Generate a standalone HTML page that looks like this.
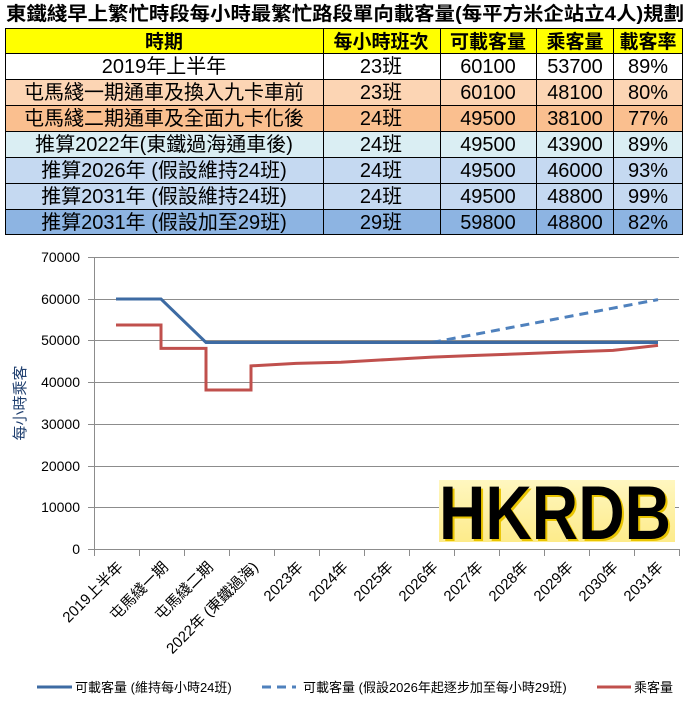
<!DOCTYPE html>
<html><head><meta charset="utf-8"><style>
html,body{margin:0;padding:0;background:#fff;}
svg{display:block;font-family:"Liberation Sans","Noto Sans CJK TC",sans-serif;}
</style></head><body>
<svg width="690" height="701" viewBox="0 0 690 701" xmlns="http://www.w3.org/2000/svg">
<text x="345" y="20" text-anchor="middle" font-size="19" font-weight="bold" textLength="678" lengthAdjust="spacingAndGlyphs">東鐵綫早上繁忙時段每小時最繁忙路段單向載客量(每平方米企站立4人)規劃</text>
<g stroke="none">
<rect x="5" y="28" width="678" height="25" fill="#ffff00"/>
<rect x="5" y="53" width="678" height="26" fill="#ffffff"/>
<rect x="5" y="79" width="678" height="26" fill="#fcd5b4"/>
<rect x="5" y="105" width="678" height="26" fill="#fabf8f"/>
<rect x="5" y="131" width="678" height="26" fill="#daeef3"/>
<rect x="5" y="157" width="678" height="26" fill="#c5d9f1"/>
<rect x="5" y="183" width="678" height="26" fill="#c5d9f1"/>
<rect x="5" y="209" width="678" height="26" fill="#8db4e2"/>
</g>
<g stroke="#000" stroke-width="1" fill="none">
<rect x="5.5" y="28.5" width="677" height="206"/>
<line x1="5" y1="53.5" x2="683" y2="53.5"/>
<line x1="5" y1="79.5" x2="683" y2="79.5"/>
<line x1="5" y1="105.5" x2="683" y2="105.5"/>
<line x1="5" y1="131.5" x2="683" y2="131.5"/>
<line x1="5" y1="157.5" x2="683" y2="157.5"/>
<line x1="5" y1="183.5" x2="683" y2="183.5"/>
<line x1="5" y1="209.5" x2="683" y2="209.5"/>
<line x1="323.5" y1="28" x2="323.5" y2="235"/>
<line x1="440.5" y1="28" x2="440.5" y2="235"/>
<line x1="536.5" y1="28" x2="536.5" y2="235"/>
<line x1="613.5" y1="28" x2="613.5" y2="235"/>
</g>
<g font-size="20" text-anchor="middle" fill="#000">
<g font-size="19" font-weight="bold">
<text x="164" y="48">時期</text>
<text x="381" y="48">每小時班次</text>
<text x="488" y="48">可載客量</text>
<text x="575" y="48">乘客量</text>
<text x="648" y="48">載客率</text>
</g>
<text x="164" y="73">2019年上半年</text>
<text x="164" y="99">屯馬綫一期通車及換入九卡車前</text>
<text x="164" y="125">屯馬綫二期通車及全面九卡化後</text>
<text x="164" y="151">推算2022年(東鐵過海通車後)</text>
<text x="164" y="177">推算2026年 (假設維持24班)</text>
<text x="164" y="203">推算2031年 (假設維持24班)</text>
<text x="164" y="229">推算2031年 (假設加至29班)</text>

<text x="381" y="73">23班</text><text x="488" y="73">60100</text><text x="575" y="73">53700</text><text x="648" y="73">89%</text>
<text x="381" y="99">23班</text><text x="488" y="99">60100</text><text x="575" y="99">48100</text><text x="648" y="99">80%</text>
<text x="381" y="125">24班</text><text x="488" y="125">49500</text><text x="575" y="125">38100</text><text x="648" y="125">77%</text>
<text x="381" y="151">24班</text><text x="488" y="151">49500</text><text x="575" y="151">43900</text><text x="648" y="151">89%</text>
<text x="381" y="177">24班</text><text x="488" y="177">49500</text><text x="575" y="177">46000</text><text x="648" y="177">93%</text>
<text x="381" y="203">24班</text><text x="488" y="203">49500</text><text x="575" y="203">48800</text><text x="648" y="203">99%</text>
<text x="381" y="229">29班</text><text x="488" y="229">59800</text><text x="575" y="229">48800</text><text x="648" y="229">82%</text>
</g>

<g stroke="#8c8c8c" stroke-width="1">
<line x1="88" y1="257.5" x2="679" y2="257.5"/>
<line x1="88" y1="299.5" x2="679" y2="299.5"/>
<line x1="88" y1="340.5" x2="679" y2="340.5"/>
<line x1="88" y1="382.5" x2="679" y2="382.5"/>
<line x1="88" y1="424.5" x2="679" y2="424.5"/>
<line x1="88" y1="466.5" x2="679" y2="466.5"/>
<line x1="88" y1="507.5" x2="679" y2="507.5"/>
<line x1="88" y1="549.5" x2="679" y2="549.5"/>
<line x1="94.5" y1="257" x2="94.5" y2="549"/>
<line x1="94.5" y1="549" x2="94.5" y2="556"/>
<line x1="139.5" y1="549" x2="139.5" y2="556"/>
<line x1="184.5" y1="549" x2="184.5" y2="556"/>
<line x1="229.5" y1="549" x2="229.5" y2="556"/>
<line x1="274.5" y1="549" x2="274.5" y2="556"/>
<line x1="319.5" y1="549" x2="319.5" y2="556"/>
<line x1="364.5" y1="549" x2="364.5" y2="556"/>
<line x1="409.5" y1="549" x2="409.5" y2="556"/>
<line x1="454.5" y1="549" x2="454.5" y2="556"/>
<line x1="499.5" y1="549" x2="499.5" y2="556"/>
<line x1="544.5" y1="549" x2="544.5" y2="556"/>
<line x1="589.5" y1="549" x2="589.5" y2="556"/>
<line x1="634.5" y1="549" x2="634.5" y2="556"/>
<line x1="679.5" y1="549" x2="679.5" y2="556"/>
</g>
<g font-size="14" text-anchor="end" fill="#000">
<text x="80" y="262">70000</text>
<text x="80" y="304">60000</text>
<text x="80" y="345">50000</text>
<text x="80" y="387">40000</text>
<text x="80" y="429">30000</text>
<text x="80" y="471">20000</text>
<text x="80" y="512">10000</text>
<text x="80" y="554">0</text>
</g>
<text transform="translate(25,403) rotate(-90)" font-size="15" text-anchor="middle" fill="#1f3f6f">每小時乘客</text>

<defs><linearGradient id="lg" x1="0" x2="0" y1="0" y2="1"><stop offset="0" stop-color="#fff7c0"/><stop offset="1" stop-color="#fdeb8a"/></linearGradient></defs>
<rect x="439" y="480" width="236" height="62" fill="url(#lg)"/>
<text x="441" y="541" font-size="76" font-weight="bold" fill="#e9c400" textLength="232" lengthAdjust="spacingAndGlyphs">HKRDB</text>
<text x="439" y="539" font-size="76" font-weight="bold" fill="#000" textLength="232" lengthAdjust="spacingAndGlyphs">HKRDB</text>

<polyline fill="none" stroke="#c0504d" stroke-width="3" points="116,325 161,325 161,348.4 206,348.4 206,390 251,390 251,365.9 296,363.4 341,362.2 387,359.6 432,357.1 477,355.4 522,353.7 567,352 613,350.4 658,345.4"/>
<polyline fill="none" stroke="#4f81bd" stroke-width="3" stroke-dasharray="9,6" points="432,342.5 658,299.6"/>
<polyline fill="none" stroke="#3d6ba3" stroke-width="3" points="116,299 161,299 206,342.5 658,342.5"/>

<g font-size="15" text-anchor="end" fill="#000">
<text transform="translate(124,568) rotate(-45)">2019上半年</text>
<text transform="translate(169,568) rotate(-45)">屯馬綫一期</text>
<text transform="translate(214,568) rotate(-45)">屯馬綫二期</text>
<text transform="translate(259,568) rotate(-45)">2022年 (東鐵過海)</text>
<text transform="translate(304,568) rotate(-45)">2023年</text>
<text transform="translate(349,568) rotate(-45)">2024年</text>
<text transform="translate(394,568) rotate(-45)">2025年</text>
<text transform="translate(439,568) rotate(-45)">2026年</text>
<text transform="translate(484,568) rotate(-45)">2027年</text>
<text transform="translate(529,568) rotate(-45)">2028年</text>
<text transform="translate(574,568) rotate(-45)">2029年</text>
<text transform="translate(619,568) rotate(-45)">2030年</text>
<text transform="translate(664,568) rotate(-45)">2031年</text>
</g>

<line x1="37" y1="687" x2="72" y2="687" stroke="#3d6ba3" stroke-width="3"/>
<text x="75" y="692" font-size="13">可載客量 (維持每小時24班)</text>
<line x1="262" y1="687" x2="296" y2="687" stroke="#4f81bd" stroke-width="3" stroke-dasharray="9,6"/>
<text x="303" y="692" font-size="13">可載客量 (假設2026年起逐步加至每小時29班)</text>
<line x1="597" y1="687" x2="631" y2="687" stroke="#c0504d" stroke-width="3"/>
<text x="634" y="692" font-size="13">乘客量</text>
</svg>
</body></html>
